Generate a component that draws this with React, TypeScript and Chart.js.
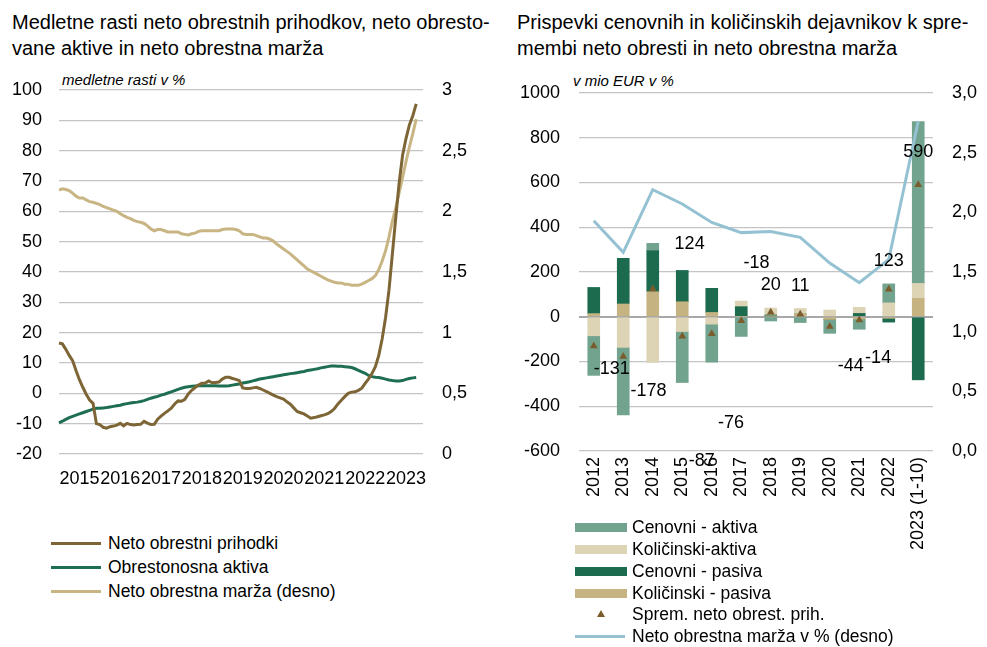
import React, { useEffect, useRef } from 'react';
import { Chart, registerables } from 'chart.js';

Chart.register(...registerables);

const FONT = '"Liberation Sans", Arial, Helvetica, sans-serif';

// ---------- Left chart data (monthly, Jan 2015 – Oct 2023) ----------
const yearTicks = ['2015', '2016', '2017', '2018', '2019', '2020', '2021', '2022', '2023'];
const monthLabels: string[] = [];
yearTicks.forEach((y) => {
  for (let m = 1; m <= 12; m++) monthLabels.push(`${y}-${m < 10 ? '0' : ''}${m}`);
});

const netInterestIncome = [
  16.6, 16.3, 14.5, 12.5, 10.8, 7.5, 4.5, 2.0, -0.3, -2.2, -3.3, -10.0,
  -10.3, -11.2, -11.5, -11.0, -10.8, -10.5, -9.9, -10.7, -9.9, -10.3, -10.4, -10.3,
  -10.2, -9.2, -9.8, -10.3, -10.2, -8.5, -7.5, -6.6, -5.8, -4.9, -3.5, -2.5,
  -2.6, -2.0, -0.2, 1.0, 1.9, 2.7, 3.3, 3.4, 4.1, 3.5, 3.6, 3.7,
  4.7, 5.3, 5.3, 4.9, 4.6, 4.2, 1.8, 1.6, 1.6, 1.8, 2.0, 1.6,
  1.1, 0.6, 0.0, -0.6, -1.1, -1.5, -1.9, -2.8, -3.6, -4.8, -6.0, -6.4,
  -6.8, -7.5, -8.2, -8.0, -7.7, -7.4, -7.1, -6.7, -6.0, -5.0, -3.5, -2.3,
  -1.1, 0.0, 0.4, 0.5, 1.0, 1.7, 3.3, 4.8, 6.5, 8.8, 12.5, 18.0,
  25.0, 34.0, 46.0, 58.0, 69.5, 78.5, 84.0, 88.5, 91.5, 95.4,
];

const interestBearingAssets = [
  -9.7, -9.2, -8.6, -8.0, -7.6, -7.2, -6.8, -6.4, -6.0, -5.6, -5.2, -4.9,
  -4.9, -4.8, -4.7, -4.5, -4.3, -4.1, -3.9, -3.6, -3.4, -3.2, -3.0, -2.9,
  -2.7, -2.4, -2.0, -1.6, -1.3, -1.0, -0.6, -0.3, 0.1, 0.5, 0.9, 1.3,
  1.7, 2.0, 2.2, 2.3, 2.4, 2.5, 2.5, 2.5, 2.5, 2.5, 2.5, 2.4,
  2.4, 2.4, 2.5, 2.7, 2.9, 3.1, 3.4, 3.6, 3.8, 4.1, 4.4, 4.7,
  4.9, 5.1, 5.3, 5.5, 5.7, 5.9, 6.1, 6.3, 6.5, 6.6, 6.8, 7.0,
  7.2, 7.5, 7.7, 7.9, 8.1, 8.4, 8.6, 8.8, 9.0, 9.0, 8.9, 8.9,
  8.8, 8.7, 8.5, 8.1, 7.6, 7.1, 6.6, 5.9, 5.5, 5.3, 5.2, 5.0,
  4.7, 4.4, 4.2, 4.1, 4.1, 4.2, 4.6, 4.9, 5.1, 5.2,
];

const netInterestMargin = [
  2.175, 2.185, 2.18, 2.17, 2.15, 2.125, 2.11, 2.11, 2.095, 2.08, 2.075, 2.065,
  2.055, 2.04, 2.03, 2.02, 2.01, 2.0, 1.98, 1.965, 1.95, 1.94, 1.925, 1.915,
  1.91, 1.9, 1.88, 1.855, 1.84, 1.85, 1.85, 1.84, 1.83, 1.83, 1.83, 1.83,
  1.815, 1.81, 1.805, 1.815, 1.82, 1.835, 1.84, 1.84, 1.84, 1.84, 1.84, 1.84,
  1.85, 1.855, 1.855, 1.855, 1.85, 1.84, 1.815, 1.81, 1.81, 1.81, 1.8, 1.79,
  1.78, 1.78, 1.77, 1.755, 1.73, 1.71, 1.69, 1.67, 1.65, 1.625, 1.6, 1.575,
  1.55, 1.525, 1.51, 1.495, 1.48, 1.465, 1.45, 1.435, 1.425, 1.415, 1.41, 1.41,
  1.4, 1.4, 1.39, 1.39, 1.39, 1.4, 1.415, 1.43, 1.445, 1.47, 1.52, 1.59,
  1.675, 1.79, 1.92, 2.03, 2.155, 2.28, 2.41, 2.53, 2.64, 2.76,
];

// ---------- Right chart data (annual) ----------
const years = ['2012', '2013', '2014', '2015', '2016', '2017', '2018', '2019', '2020', '2021', '2022', '2023 (1-10)'];
const priceAssets = [-177, -302, 33, -228, -170, -88, -19, -26, -62, -46, 85, 723]; // Cenovni - aktiva
const volumeAssets = [-85, -137, -204, -66, -33, 25, 31, 25, 30, 27, 62, 67]; // Količinski-aktiva
const priceLiabilities = [117, 204, 183, 140, 108, 45, 5, 0, 0, 15, -17, -282]; // Cenovni - pasiva
const volumeLiabilities = [14, 57, 112, 67, 19, 0, 3, 12, -12, -10, -7, 82]; // Količinski - pasiva
const changeNII = [-131, -178, 124, -87, -76, -18, 20, 11, -44, -14, 123, 590]; // Sprem. neto obrest. prih.
const marginPct = [1.93, 1.665, 2.19, 2.07, 1.915, 1.83, 1.84, 1.79, 1.575, 1.41, 1.605, 2.765];

// label placement for the "Sprem." values: [offset in categories, value on left axis]
const labelPlacement: [number, number][] = [
  [0.61, -235], [0.86, -332], [1.25, 323], [0.66, -644], [0.65, -474], [0.52, 239],
  [0, 142], [0, 137], [0.71, -220], [0.64, -186], [0, 249], [0, 738],
];

const COL = {
  brown: '#7D6535',
  green: '#1E6E51',
  beige: '#C9B584',
  priceA: '#72A38F',
  volA: '#DDD3B5',
  priceL: '#1D6B4F',
  volL: '#C6B382',
  tri: '#7B5D2D',
  blue: '#95C2D3',
  grid: '#C4C4C4',
};

const fmtComma = (v: number, d: number) => (d > 0 ? v.toFixed(d) : String(Math.round(v * 10) / 10)).replace('.', ',');

function LeftChart() {
  const ref = useRef<HTMLCanvasElement>(null);
  useEffect(() => {
    const chart = new Chart(ref.current!, {
      type: 'line',
      data: {
        labels: monthLabels,
        datasets: [
          { label: 'Neto obrestni prihodki', data: netInterestIncome, borderColor: COL.brown, borderWidth: 3, pointRadius: 0, yAxisID: 'y', tension: 0 },
          { label: 'Obrestonosna aktiva', data: interestBearingAssets, borderColor: COL.green, borderWidth: 3, pointRadius: 0, yAxisID: 'y', tension: 0 },
          { label: 'Neto obrestna marža (desno)', data: netInterestMargin, borderColor: COL.beige, borderWidth: 3, pointRadius: 0, yAxisID: 'y1', tension: 0 },
        ],
      },
      options: {
        animation: false,
        responsive: false,
        maintainAspectRatio: false,
        layout: { padding: { top: 30, left: 0, right: 0, bottom: 0 } },
        plugins: { legend: { display: false }, tooltip: { enabled: false } },
        scales: {
          x: {
            type: 'category',
            offset: false,
            grid: { display: false, drawTicks: false },
            border: { display: false },
            ticks: {
              autoSkip: false,
              maxRotation: 0,
              minRotation: 0,
              padding: 14,
              color: '#000',
              font: { family: FONT, size: 18 },
              callback: (_v: any, i: number) => (i % 12 === 6 ? yearTicks[Math.floor(i / 12)] : ''),
            },
            afterFit: (s: any) => { s.height = 46; },
          },
          y: {
            position: 'left',
            min: -20,
            max: 100,
            grid: { color: COL.grid, lineWidth: 1.3, drawTicks: false },
            border: { display: false },
            ticks: { stepSize: 10, padding: 17, color: '#000', font: { family: FONT, size: 18 }, callback: (v: any) => String(v) },
            afterFit: (s: any) => { s.width = 59; },
          },
          y1: {
            position: 'right',
            min: 0,
            max: 3,
            grid: { display: false, drawTicks: false },
            border: { display: false },
            ticks: { stepSize: 0.5, padding: 19, color: '#000', font: { family: FONT, size: 18 }, callback: (v: any) => fmtComma(Number(v), 0) },
            afterFit: (s: any) => { s.width = 57; },
          },
        },
      },
    });
    return () => chart.destroy();
  }, []);
  return <canvas ref={ref} width={480} height={440} style={{ position: 'absolute', left: 0, top: 60, width: 480, height: 440 }} />;
}

const changeLabelsPlugin = {
  id: 'changeLabels',
  afterDatasetsDraw(chart: any) {
    const { ctx, scales } = chart;
    const x = scales.x;
    const y = scales.y;
    const step = x.getPixelForValue(1) - x.getPixelForValue(0);
    ctx.save();
    ctx.font = `18px ${FONT}`;
    ctx.fillStyle = '#000';
    ctx.textAlign = 'center';
    ctx.textBaseline = 'middle';
    changeNII.forEach((v, i) => {
      const [dx, vy] = labelPlacement[i];
      ctx.fillText(String(v), x.getPixelForValue(i) + dx * step, y.getPixelForValue(vy));
    });
    ctx.restore();
  },
};

function RightChart() {
  const ref = useRef<HTMLCanvasElement>(null);
  useEffect(() => {
    const barCommon = { barThickness: 12, borderWidth: 0, yAxisID: 'y', order: 2 };
    const chart = new Chart(ref.current!, {
      type: 'bar',
      data: {
        labels: years,
        datasets: [
          { ...barCommon, type: 'bar', label: 'Količinski - pasiva', data: volumeLiabilities, backgroundColor: COL.volL },
          { ...barCommon, type: 'bar', label: 'Cenovni - pasiva', data: priceLiabilities, backgroundColor: COL.priceL },
          { ...barCommon, type: 'bar', label: 'Količinski-aktiva', data: volumeAssets, backgroundColor: COL.volA },
          { ...barCommon, type: 'bar', label: 'Cenovni - aktiva', data: priceAssets, backgroundColor: COL.priceA },
          {
            type: 'line', label: 'Neto obrestna marža v % (desno)', data: marginPct, yAxisID: 'y1', order: 1,
            borderColor: COL.blue, borderWidth: 3, pointRadius: 0, tension: 0,
          },
          {
            type: 'line', label: 'Sprem. neto obrest. prih.', data: changeNII, yAxisID: 'y', order: 0,
            showLine: false, pointStyle: 'triangle', pointRadius: 4.5, pointBackgroundColor: COL.tri, pointBorderColor: COL.tri, pointBorderWidth: 0,
          },
        ] as any,
      },
      options: {
        animation: false,
        responsive: false,
        maintainAspectRatio: false,
        layout: { padding: { top: 33, left: 0, right: 0, bottom: 0 } },
        plugins: { legend: { display: false }, tooltip: { enabled: false } },
        scales: {
          x: {
            stacked: true,
            grid: { display: false, drawTicks: false },
            border: { display: false },
            ticks: {
              autoSkip: false,
              maxRotation: 90,
              minRotation: 90,
              padding: 6,
              color: '#000',
              font: { family: FONT, size: 18 },
            },
            afterFit: (s: any) => { s.height = 109; },
          },
          y: {
            stacked: true,
            position: 'left',
            min: -600,
            max: 1000,
            grid: {
              color: (c: any) => (c.tick && c.tick.value === 0 ? '#A8A8A8' : COL.grid),
              lineWidth: (c: any) => (c.tick && c.tick.value === 0 ? 2 : 1.3),
              drawTicks: false,
            },
            border: { display: false },
            ticks: { stepSize: 200, padding: 19, color: '#000', font: { family: FONT, size: 18 }, callback: (v: any) => String(v) },
            afterFit: (s: any) => { s.width = 79; },
          },
          y1: {
            position: 'right',
            min: 0,
            max: 3,
            grid: { display: false, drawTicks: false },
            border: { display: false },
            ticks: { stepSize: 0.5, padding: 19, color: '#000', font: { family: FONT, size: 18 }, callback: (v: any) => fmtComma(Number(v), 1) },
            afterFit: (s: any) => { s.width = 54; },
          },
        },
      },
      plugins: [changeLabelsPlugin],
    });
    return () => chart.destroy();
  }, []);
  return <canvas ref={ref} width={487} height={500} style={{ position: 'absolute', left: 500, top: 60, width: 487, height: 500 }} />;
}

const textBase: React.CSSProperties = { position: 'absolute', fontFamily: FONT, color: '#000', whiteSpace: 'nowrap' };

function LineSwatch({ color, top, left }: { color: string; top: number; left: number }) {
  return <div style={{ position: 'absolute', left, top: top - 1.5, width: 50, height: 3, background: color }} />;
}

export default function App() {
  const leftLegend = [
    { label: 'Neto obrestni prihodki', color: COL.brown },
    { label: 'Obrestonosna aktiva', color: COL.green },
    { label: 'Neto obrestna marža (desno)', color: COL.beige },
  ];
  const leftRows = [543, 567, 591];
  const rightRows = [527, 549, 571, 593, 614, 636];
  const rightLegend = [
    { label: 'Cenovni - aktiva', color: COL.priceA, kind: 'box' },
    { label: 'Količinski-aktiva', color: COL.volA, kind: 'box' },
    { label: 'Cenovni - pasiva', color: COL.priceL, kind: 'box' },
    { label: 'Količinski - pasiva', color: COL.volL, kind: 'box' },
    { label: 'Sprem. neto obrest. prih.', color: COL.tri, kind: 'tri' },
    { label: 'Neto obrestna marža v % (desno)', color: COL.blue, kind: 'line' },
  ];
  return (
    <div style={{ position: 'absolute', left: 0, top: 0, width: 987, height: 647, background: '#fff', overflow: 'hidden' }}>
      <div style={{ ...textBase, left: 12, top: 9, fontSize: 20, lineHeight: '26px' }}>
        Medletne rasti neto obrestnih prihodkov, neto obresto-<br />vane aktive in neto obrestna marža
      </div>
      <div style={{ ...textBase, left: 517, top: 9, fontSize: 20, lineHeight: '26px' }}>
        Prispevki cenovnih in količinskih dejavnikov k spre-<br />membi neto obresti in neto obrestna marža
      </div>
      <div style={{ ...textBase, left: 62, top: 71, fontSize: 15, lineHeight: '18px', fontStyle: 'italic' }}>medletne rasti v %</div>
      <div style={{ ...textBase, left: 573, top: 72, fontSize: 15, lineHeight: '18px', fontStyle: 'italic' }}>v mio EUR v %</div>

      <LeftChart />
      <RightChart />

      {leftLegend.map((it, i) => (
        <React.Fragment key={it.label}>
          <LineSwatch color={it.color} top={leftRows[i]} left={51} />
          <div style={{ ...textBase, left: 108, top: leftRows[i] - 11, fontSize: 17.5, lineHeight: '22px' }}>{it.label}</div>
        </React.Fragment>
      ))}

      {rightLegend.map((it, i) => (
        <React.Fragment key={it.label}>
          {it.kind === 'box' && (
            <div style={{ position: 'absolute', left: 575, top: rightRows[i] - 4.5, width: 52, height: 9, background: it.color }} />
          )}
          {it.kind === 'tri' && (
            <div style={{ position: 'absolute', left: 597, top: rightRows[i] - 4, width: 0, height: 0, borderLeft: '4px solid transparent', borderRight: '4px solid transparent', borderBottom: `7px solid ${it.color}` }} />
          )}
          {it.kind === 'line' && <LineSwatch color={it.color} top={rightRows[i]} left={575} />}
          <div style={{ ...textBase, left: 632, top: rightRows[i] - 11, fontSize: 17.5, lineHeight: '22px' }}>{it.label}</div>
        </React.Fragment>
      ))}
    </div>
  );
}
